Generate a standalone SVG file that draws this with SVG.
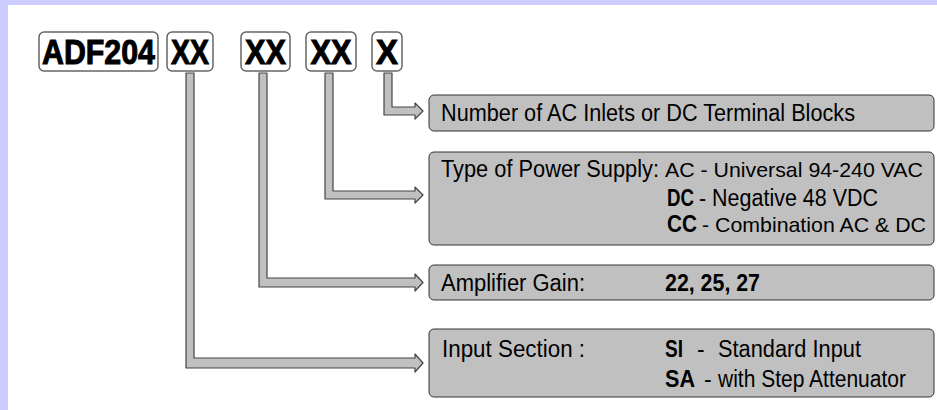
<svg xmlns="http://www.w3.org/2000/svg" width="937" height="410" viewBox="0 0 937 410">
<style>
.code{fill:#fff;stroke:#666;stroke-width:1.5}
.code-t{font-family:"Liberation Sans",Arial,sans-serif;font-weight:bold;font-size:35px;fill:#000;stroke:#000;stroke-width:1;text-anchor:middle}
.box{fill:#c0c0c0;stroke:#333;stroke-width:1}
.t{font-family:"Liberation Sans",Arial,sans-serif;font-size:23px;fill:#000}
.s{font-size:21px}
.b{font-weight:bold}
.conn{fill:#c0c0c0;stroke:#444;stroke-width:1.2;stroke-linejoin:round}
</style>
<rect x="0" y="0" width="937" height="410" fill="#fff"/>
<rect x="0" y="0" width="937" height="5" fill="#ccccff"/>
<rect x="0" y="0" width="8" height="410" fill="#ccccff"/>

<g id="connectors">
<polygon class="conn" points="384,73 392,73 392,107 415,107 415,103 423,111 415,119 415,115 384,115"/>
<polygon class="conn" points="325,73 333,73 333,191 415,191 415,187 423,195 415,203 415,199 325,199"/>
<polygon class="conn" points="259,73 267,73 267,278 415,278 415,274 423,282.5 415,291 415,287 259,287"/>
<polygon class="conn" points="186,73 194,73 194,358 415,358 415,354 423,363 415,372 415,368 186,368"/>
</g>

<g id="code-adf204">
<rect class="code" x="39" y="32" width="119" height="39" rx="5"/>
<text class="code-t" x="98.5" y="64" textLength="113" lengthAdjust="spacingAndGlyphs">ADF204</text>
</g>
<g id="code-xx1">
<rect class="code" x="167" y="32" width="46" height="39" rx="5"/>
<text class="code-t" x="190" y="64" textLength="38" lengthAdjust="spacingAndGlyphs">XX</text>
</g>
<g id="code-xx2">
<rect class="code" x="241" y="32" width="49" height="39" rx="5"/>
<text class="code-t" x="265.5" y="64" textLength="41" lengthAdjust="spacingAndGlyphs">XX</text>
</g>
<g id="code-xx3">
<rect class="code" x="306" y="32" width="50" height="39" rx="5"/>
<text class="code-t" x="331" y="64" textLength="41" lengthAdjust="spacingAndGlyphs">XX</text>
</g>
<g id="code-x">
<rect class="code" x="372" y="32" width="30" height="39" rx="5"/>
<text class="code-t" x="387" y="64" textLength="22" lengthAdjust="spacingAndGlyphs">X</text>
</g>

<g id="box-inlets">
<rect class="box" x="429" y="95" width="505" height="36" rx="5"/>
<text class="t" x="441" y="121" textLength="414" lengthAdjust="spacingAndGlyphs">Number of AC Inlets or DC Terminal Blocks</text>
</g>

<g id="box-power">
<rect class="box" x="429" y="152" width="505" height="93" rx="5"/>
<text class="t" x="441" y="177" textLength="218" lengthAdjust="spacingAndGlyphs">Type of Power Supply:</text>
<text class="t s" x="665" y="177" textLength="258" lengthAdjust="spacingAndGlyphs">AC - Universal 94-240 VAC</text>
<text class="t b" x="667" y="206" textLength="27" lengthAdjust="spacingAndGlyphs">DC</text>
<text class="t" x="699" y="206" textLength="179" lengthAdjust="spacingAndGlyphs">- Negative 48 VDC</text>
<text class="t b" x="667" y="232" textLength="30" lengthAdjust="spacingAndGlyphs">CC</text>
<text class="t s" x="702" y="232" textLength="224" lengthAdjust="spacingAndGlyphs">- Combination AC &amp; DC</text>
</g>

<g id="box-gain">
<rect class="box" x="429" y="265" width="505" height="35" rx="5"/>
<text class="t" x="441" y="291" textLength="144" lengthAdjust="spacingAndGlyphs">Amplifier Gain:</text>
<text class="t b" x="665" y="291" textLength="95" lengthAdjust="spacingAndGlyphs">22, 25, 27</text>
</g>

<g id="box-input">
<rect class="box" x="429" y="329" width="505" height="68" rx="5"/>
<text class="t" x="442" y="357" textLength="143" lengthAdjust="spacingAndGlyphs">Input Section :</text>
<text class="t b" x="665" y="357" textLength="18" lengthAdjust="spacingAndGlyphs">SI</text>
<text class="t" x="697" y="357">-</text>
<text class="t" x="718" y="357" textLength="143" lengthAdjust="spacingAndGlyphs">Standard Input</text>
<text class="t b" x="665" y="387" textLength="30" lengthAdjust="spacingAndGlyphs">SA</text>
<text class="t" x="704" y="387">-</text>
<text class="t" x="718" y="387" textLength="188" lengthAdjust="spacingAndGlyphs">with Step Attenuator</text>
</g>
</svg>
